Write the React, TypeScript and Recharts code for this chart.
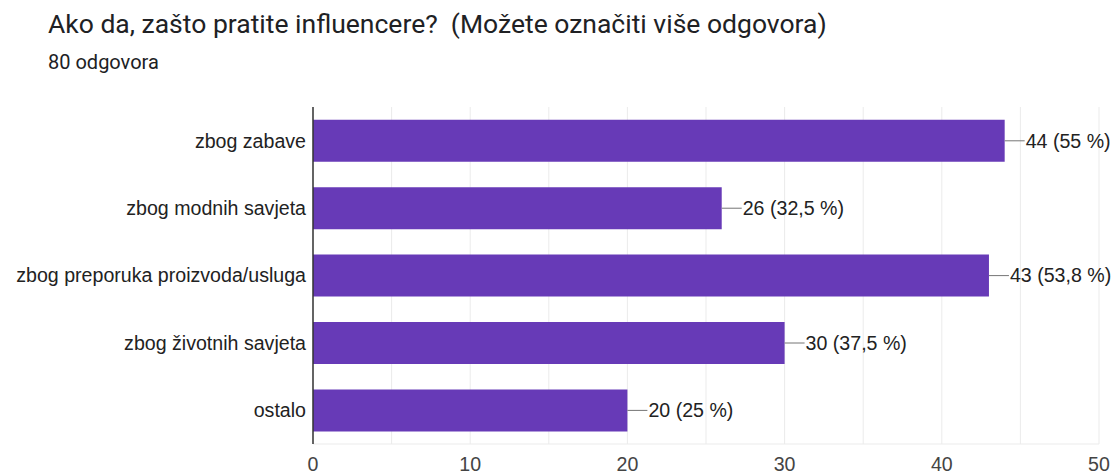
import { BarChart, Bar, XAxis, YAxis, CartesianGrid, LabelList } from "recharts";

const categories = [
  "zbog zabave",
  "zbog modnih savjeta",
  "zbog preporuka proizvoda/usluga",
  "zbog životnih savjeta",
  "ostalo",
];
const counts = [44, 26, 43, 30, 20];
const percents = ["55 %", "32,5 %", "53,8 %", "37,5 %", "25 %"];
const xTicks = [0, 5, 10, 15, 20, 25, 30, 35, 40, 45, 50];

const data = categories.map((name, i) => ({
  name,
  value: counts[i],
  label: `${counts[i]} (${percents[i]})`,
}));

const TITLE_FONT = "Roboto, Arial, sans-serif";
const FONT = "'Liberation Sans', Arial, sans-serif";
const PURPLE = "#673ab7";
const GRID = "#ebebeb";

// leader line + text to the right of each bar
function ValueLabel(props: any) {
  const { x, y, width, height, index } = props;
  const x0 = Number(x) + Number(width);
  const cy = Number(y) + Number(height) / 2;
  return (
    <g>
      <line x1={x0} y1={cy} x2={x0 + 20} y2={cy} stroke="#757575" strokeWidth={1} />
      <text
        x={x0 + 21}
        y={cy}
        dy="0.35em"
        fill="#222"
        fontSize={19.6}
        fontFamily={FONT}
      >
        {data[index].label}
      </text>
    </g>
  );
}

export default function App() {
  return (
    <div
      style={{
        position: "fixed",
        left: 0,
        top: 0,
        width: 1112,
        height: 474,
        background: "#fff",
        fontFamily: TITLE_FONT,
      }}
    >
      <div
        style={{
          position: "absolute",
          left: 48,
          top: 8,
          fontSize: 26.5,
          color: "#202124",
          whiteSpace: "pre",
        }}
      >
        {"Ako da, zašto pratite influencere?  (Možete označiti više odgovora)"}
      </div>
      <div style={{ position: "absolute", left: 48, top: 50, fontSize: 20, color: "#202124" }}>
        80 odgovora
      </div>
      <BarChart
        width={1112}
        height={474}
        data={data}
        layout="vertical"
        margin={{ top: 107, right: 13, left: 0, bottom: 0 }}
        barCategoryGap="19%"
      >
        <CartesianGrid horizontal={false} stroke={GRID} strokeWidth={1} />
        <XAxis
          type="number"
          domain={[0, 50]}
          ticks={xTicks}
          interval={0}
          tickFormatter={(v: number) => (v % 10 === 0 ? String(v) : "")}
          tick={{ fill: "#444", fontSize: 19.6, fontFamily: FONT }}
          axisLine={{ stroke: GRID }}
          tickLine={false}
          tickMargin={7}
          height={30}
        />
        <XAxis
          xAxisId="top"
          orientation="top"
          type="number"
          domain={[0, 50]}
          tick={false}
          tickLine={false}
          axisLine={{ stroke: GRID }}
          height={0}
        />
        <YAxis
          type="category"
          dataKey="name"
          width={313}
          tick={{ fill: "#222", fontSize: 19.6, fontFamily: FONT }}
          axisLine={{ stroke: "#333", strokeWidth: 1.5 }}
          tickLine={false}
          tickMargin={1}
        />
        <Bar dataKey="value" fill={PURPLE} isAnimationActive={false}>
          <LabelList dataKey="label" content={ValueLabel} />
        </Bar>
      </BarChart>
    </div>
  );
}
